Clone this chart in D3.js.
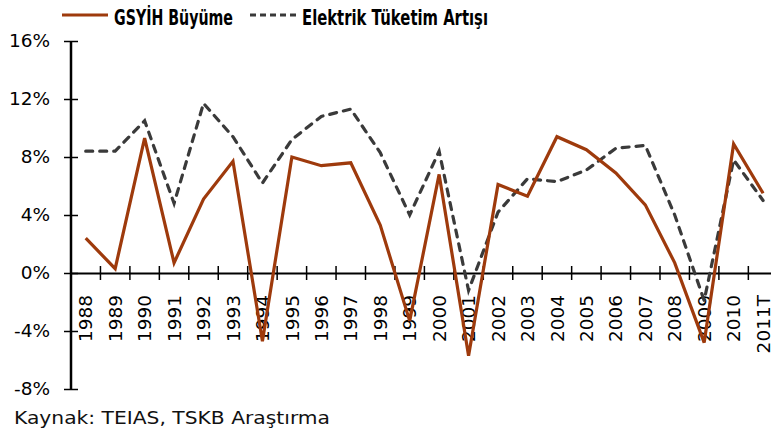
<!DOCTYPE html>
<html>
<head>
<meta charset="utf-8">
<script src="https://cdn.jsdelivr.net/npm/d3@7"></script>
<style>
  body { margin: 0; background: #fff; }
  svg { display: block; }
</style>
</head>
<body>
<svg width="771" height="434"></svg>
<script>
var years = ["1988", "1989", "1990", "1991", "1992", "1993", "1994", "1995", "1996", "1997", "1998", "1999",
             "2000", "2001", "2002", "2003", "2004", "2005", "2006", "2007", "2008", "2009", "2010", "2011T"];
var gdpGrowth = [2.4, 0.3, 9.3, 0.7, 5.1, 7.7, -4.7, 8.0, 7.4, 7.6, 3.3, -3.3,
                 6.8, -5.7, 6.1, 5.3, 9.4, 8.5, 6.9, 4.7, 0.7, -4.8, 8.9, 5.5];
var elecGrowth = [8.4, 8.4, 10.5, 4.8, 11.7, 9.4, 6.2, 9.2, 10.8, 11.3, 8.3, 4.0,
                  8.4, -1.2, 4.2, 6.5, 6.3, 7.1, 8.6, 8.8, 4.0, -1.9, 7.8, 5.0];
var yTicks = [-8, -4, 0, 4, 8, 12, 16];
var seriesNames = ["GSYİH Büyüme", "Elektrik Tüketim Artışı"];

var svg = d3.select("svg"),
    width = +svg.attr("width"),
    height = +svg.attr("height");

var margin = {left: 71, top: 41, bottom: 389};
var bandW = 29.45;

var x = d3.scaleBand()
    .domain(years)
    .range([margin.left, margin.left + bandW * years.length]);

var y = d3.scaleLinear()
    .domain([-8, 16])
    .range([margin.bottom, margin.top]);

var fontMain = "'DejaVu Sans', Verdana, sans-serif";

// y axis
var yAxis = svg.append("g")
    .attr("transform", "translate(" + margin.left + ",0)")
    .call(d3.axisLeft(y).tickValues(yTicks).tickFormat(function(d) { return d + "%"; }).tickSize(7).tickPadding(14));
yAxis.select(".domain").attr("stroke", "#000").attr("stroke-width", 2.5).attr("d", "M0," + y(16) + "V" + y(-8));
yAxis.selectAll(".tick line").attr("x1", -7).attr("x2", 7).attr("stroke", "#000").attr("stroke-width", 1.5);
yAxis.selectAll(".tick text")
    .attr("font-family", fontMain)
    .attr("font-size", 18.5)
    .attr("fill", "#000");

// x axis (on the zero line)
var xAxis = svg.append("g")
    .attr("transform", "translate(0," + y(0) + ")")
    .call(d3.axisBottom(x).tickSize(0).tickPadding(0));
xAxis.select(".domain").attr("stroke", "#000").attr("stroke-width", 2);
xAxis.selectAll(".tick text")
    .attr("font-family", fontMain)
    .attr("font-size", 18.5)
    .attr("fill", "#000")
    .attr("text-anchor", "end")
    .attr("transform", "rotate(-90)")
    .attr("x", -22)
    .attr("y", 0)
    .attr("dy", "0.36em");

// ticks between categories
xAxis.selectAll("line.sep")
    .data(years.slice(1))
    .enter().append("line")
    .attr("class", "sep")
    .attr("x1", function(d) { return x(d); })
    .attr("x2", function(d) { return x(d); })
    .attr("y1", -7)
    .attr("y2", 7)
    .attr("stroke", "#000")
    .attr("stroke-width", 1.5);

var line = d3.line()
    .x(function(d, i) { return x(years[i]) + x.bandwidth() / 2; })
    .y(function(d) { return y(d); });

svg.append("path")
    .datum(elecGrowth)
    .attr("fill", "none")
    .attr("stroke", "#3a3a3a")
    .attr("stroke-width", 3.2)
    .attr("stroke-dasharray", "7,7")
    .attr("stroke-linecap", "round")
    .attr("d", line);

svg.append("path")
    .datum(gdpGrowth)
    .attr("fill", "none")
    .attr("stroke", "#9e3a0c")
    .attr("stroke-width", 3.2)
    .attr("stroke-linejoin", "miter")
    .attr("d", line);

// legend (condensed bold look via textLength)
var legend = svg.append("g")
    .attr("font-family", "'DejaVu Sans', sans-serif")
    .attr("font-weight", "bold")
    .attr("font-size", 21);

legend.append("line")
    .attr("x1", 62).attr("x2", 108).attr("y1", 15).attr("y2", 15)
    .attr("stroke", "#9e3a0c").attr("stroke-width", 3);
legend.append("text")
    .attr("x", 114).attr("y", 25)
    .attr("textLength", 119)
    .attr("lengthAdjust", "spacingAndGlyphs")
    .text(seriesNames[0]);

legend.append("line")
    .attr("x1", 250).attr("x2", 296).attr("y1", 15).attr("y2", 15)
    .attr("stroke", "#3a3a3a").attr("stroke-width", 3)
    .attr("stroke-dasharray", "6,4");
legend.append("text")
    .attr("x", 302).attr("y", 25)
    .attr("textLength", 186)
    .attr("lengthAdjust", "spacingAndGlyphs")
    .text(seriesNames[1]);

// source
svg.append("text")
    .attr("x", 14)
    .attr("y", 424)
    .attr("font-family", fontMain)
    .attr("font-size", 17)
    .attr("fill", "#111")
    .attr("textLength", 316)
    .attr("lengthAdjust", "spacingAndGlyphs")
    .text("Kaynak: TEIAS, TSKB Araştırma");
</script>
</body>
</html>
